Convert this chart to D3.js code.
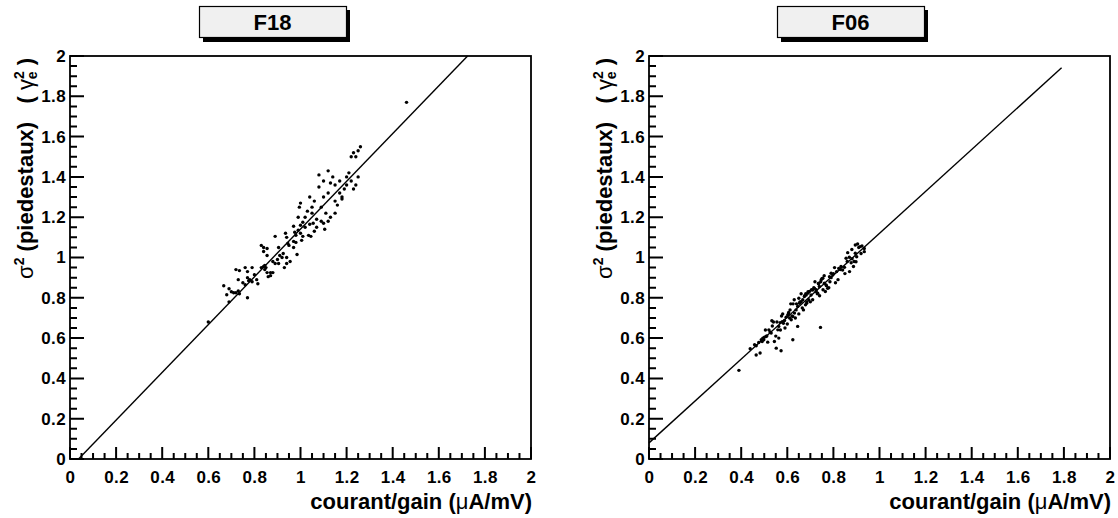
<!DOCTYPE html>
<html><head><meta charset="utf-8">
<script src="https://cdn.jsdelivr.net/npm/d3@7"></script>
<style>
body{margin:0;background:#fff}
svg text{font-family:"Liberation Sans",Arial,Helvetica,sans-serif;font-weight:bold;fill:#000}
</style>
</head><body>
<svg id="c" width="1118" height="518" xmlns="http://www.w3.org/2000/svg"></svg>
<script>
// ---------- data ----------
const panelTitles = ["F18", "F06"];
const majorTicks = [0, 0.2, 0.4, 0.6, 0.8, 1, 1.2, 1.4, 1.6, 1.8, 2];
const tickLabels = ["0", "0.2", "0.4", "0.6", "0.8", "1", "1.2", "1.4", "1.6", "1.8", "2"];
const axisDomain = [0, 2];
const xTitle = "courant/gain";
const yTitle = "(piedestaux)";

const f18X = [0.60,0.667,0.69,0.68,0.70,0.71,0.72,0.73,0.735,0.77,0.73,0.72,0.735,0.76,0.77,0.79,0.77,0.775,0.78,0.79,0.75,0.76,0.80,0.81,0.815,0.69,
0.83,0.84,0.855,0.84,0.855,0.84,0.845,0.85,0.83,0.845,0.855,0.87,0.88,0.86,0.87,0.88,0.89,0.90,0.905,0.89,0.905,0.91,0.92,0.925,0.935,0.94,0.945,0.95,0.97,0.93,0.94,0.955,0.94,
0.97,0.975,0.98,0.99,1.0,1.005,1.01,0.97,0.98,0.985,1.0,1.01,1.02,1.035,1.045,1.04,1.055,1.10,1.105,
0.99,0.995,1.0,1.02,1.03,1.05,1.06,1.07,1.08,1.09,1.1,1.1,1.11,1.12,1.12,1.13,1.14,1.15,1.15,1.16,1.17,1.17,1.18,1.19,1.2,1.2,1.21,1.22,1.22,1.23,1.24,1.25,1.26,1.18,1.07,1.06,1.09,1.12,1.15,
1.24,1.25,1.23,1.13,1.08,1.05,1.04,1.46];
const f18Y = [0.68,0.86,0.845,0.815,0.83,0.825,0.825,0.834,0.82,0.80,0.89,0.94,0.935,0.95,0.93,0.95,0.90,0.885,0.89,0.88,0.875,0.865,0.915,0.89,0.87,0.78,
1.06,1.05,1.045,1.03,1.01,0.955,0.96,0.95,0.95,0.94,0.925,0.925,0.925,0.905,0.91,0.98,0.97,0.99,0.97,1.105,1.05,1.01,1.0,1.02,1.12,1.10,1.07,1.06,1.05,0.95,0.97,0.98,1.0,
1.155,1.125,1.11,1.135,1.12,1.085,1.105,1.08,1.075,1.015,1.16,1.175,1.15,1.11,1.105,1.165,1.17,1.17,1.14,
1.2,1.25,1.27,1.2,1.23,1.22,1.28,1.19,1.35,1.25,1.38,1.3,1.22,1.32,1.43,1.2,1.4,1.28,1.36,1.26,1.32,1.38,1.3,1.34,1.36,1.4,1.42,1.38,1.5,1.52,1.5,1.53,1.55,1.29,1.15,1.13,1.18,1.18,1.22,
1.36,1.4,1.34,1.37,1.41,1.25,1.3,1.77];

const f06X = [0.390,0.439,0.458,0.465,0.465,0.482,0.476,0.487,0.494,0.501,0.508,0.491,0.498,0.520,0.530,0.511,0.533,0.544,0.552,0.573,0.563,
0.559,0.563,0.569,0.578,0.583,0.588,0.595,0.602,0.606,0.612,0.617,0.624,0.631,0.638,0.645,0.653,0.650,0.660,0.667,0.674,0.645,0.624,
0.682,0.689,0.696,0.703,0.693,0.684,0.679,0.710,0.718,0.725,0.732,0.739,0.736,0.747,0.754,0.761,0.768,0.775,0.765,0.744,
0.783,0.790,0.797,0.809,0.814,0.823,0.833,0.840,0.848,0.862,0.855,0.869,0.881,0.895,0.901,0.898,0.887,0.877,0.895,0.905,0.916,0.924,0.934,0.934,
0.505,0.515,0.525,0.535,0.54,0.55,0.555,0.57,0.575,0.58,0.59,0.60,0.605,0.61,0.615,0.62,0.625,0.63,0.635,0.64,0.65,0.655,0.66,0.665,0.67,0.675,0.68,0.685,0.69,0.70,0.705,0.71,0.715,0.72,0.725,0.73,0.735,0.74,0.745,0.75,0.755,0.76,0.77,0.78,0.785,0.79,0.80,0.805,0.82,0.83,0.85,0.86,0.87,0.88,0.89,0.91,0.92];
const f06Y = [0.440,0.547,0.567,0.562,0.516,0.526,0.578,0.592,0.600,0.605,0.608,0.583,0.592,0.641,0.625,0.611,0.686,0.583,0.550,0.537,0.600,
0.641,0.658,0.677,0.682,0.674,0.687,0.704,0.715,0.727,0.740,0.691,0.707,0.724,0.740,0.757,0.773,0.798,0.781,0.790,0.806,0.658,0.592,
0.814,0.823,0.831,0.814,0.790,0.773,0.765,0.839,0.847,0.831,0.823,0.856,0.872,0.889,0.897,0.872,0.864,0.847,0.831,0.653,
0.905,0.922,0.913,0.875,0.930,0.946,0.955,0.938,0.951,1.024,0.996,1.001,0.994,1.021,1.004,0.979,0.955,0.974,1.062,1.067,1.054,1.057,1.045,1.029,
0.64,0.58,0.63,0.66,0.68,0.61,0.68,0.64,0.71,0.72,0.65,0.67,0.72,0.70,0.77,0.71,0.77,0.79,0.70,0.77,0.72,0.78,0.82,0.75,0.74,0.81,0.82,0.78,0.83,0.78,0.84,0.79,0.85,0.88,0.84,0.82,0.87,0.81,0.88,0.895,0.84,0.91,0.86,0.85,0.88,0.90,0.92,0.95,0.89,0.94,0.92,0.98,0.93,1.04,0.98,1.05,1.02];

const fitSlope = [1.185, 1.04];
const fitIntercept = [-0.044, 0.08];
const fitXmax = [1.8, 1.79];

// ---------- drawing ----------
const svg = d3.select("#c");
const frame = {top: 56, bottom: 459, width: 461};
const panelLeft = [70, 649];
const titleBox = [{x: 199, w: 147}, {x: 777, w: 147}];
const yTitleX = [33, 612];

const minorTicks = [];
for (let k = 1; k < 40; k++) { if (k % 4 !== 0) minorTicks.push(k / 20); }

function drawPanel(i, xs, ys) {
  const L = panelLeft[i], R = L + frame.width;
  const x = d3.scaleLinear().domain(axisDomain).range([L, R]);
  const y = d3.scaleLinear().domain(axisDomain).range([frame.bottom, frame.top]);
  const g = svg.append("g");

  // tick labels via d3 axes
  const xa = g.append("g").attr("transform", `translate(0,${frame.bottom})`)
    .call(d3.axisBottom(x).tickValues(majorTicks).tickFormat((d, k) => tickLabels[k])
      .tickSize(0).tickPadding(12));
  const ya = g.append("g").attr("transform", `translate(${L},0)`)
    .call(d3.axisLeft(y).tickValues(majorTicks).tickFormat((d, k) => tickLabels[k])
      .tickSize(0).tickPadding(4));
  [xa, ya].forEach(ax => {
    ax.select(".domain").remove();
    ax.selectAll("text").attr("font-size", 17).attr("font-family", null)
      .attr("fill", "#000").style("letter-spacing", "0.4px");
  });

  // frame
  g.append("rect").attr("x", L).attr("y", frame.top)
    .attr("width", R - L).attr("height", frame.bottom - frame.top)
    .attr("fill", "none").attr("stroke", "#000").attr("stroke-width", 1.8);

  // fit line (clipped to frame)
  const a = fitSlope[i], b = fitIntercept[i];
  const x0 = Math.max(0, (0 - b) / a), x1 = Math.min(fitXmax[i], (2 - b) / a);
  g.append("line").attr("x1", x(x0)).attr("y1", y(a * x0 + b))
    .attr("x2", x(x1)).attr("y2", y(a * x1 + b))
    .attr("stroke", "#000").attr("stroke-width", 1.4);

  // points
  g.selectAll("circle.pt").data(xs.map((v, k) => [v, ys[k]])).enter()
    .append("circle").attr("class", "pt")
    .attr("cx", d => x(d[0])).attr("cy", d => y(d[1])).attr("r", 1.7).attr("fill", "#000");

  // x title
  const xtt = g.append("text").attr("x", R + 1).attr("y", 509)
    .attr("text-anchor", "end").attr("font-size", 22);
  xtt.append("tspan").text(xTitle + " (");
  xtt.append("tspan").attr("font-weight", "normal").text("\u03bc");
  xtt.append("tspan").text("A/mV)");

  // y title
  const ytt = g.append("text").attr("transform", `translate(${yTitleX[i]},58) rotate(-90)`)
    .attr("text-anchor", "end").attr("font-size", 22);
  ytt.append("tspan").attr("font-weight", "normal").text("\u03c3");
  ytt.append("tspan").attr("font-size", 14).attr("dy", -9).text("2");
  ytt.append("tspan").attr("dy", 9).text(" " + yTitle + "\u00a0\u00a0\u00a0(\u00a0");
  ytt.append("tspan").attr("font-weight", "normal").text("\u03b3");
  ytt.append("tspan").attr("font-size", 14).attr("dy", -9).text("2");
  ytt.append("tspan").attr("font-size", 14).attr("dx", -8).attr("dy", 13).text("e");
  ytt.append("tspan").attr("dy", -4).text("\u00a0)");

  // title box with shadow
  const tb = titleBox[i];
  g.append("rect").attr("x", tb.x + 4).attr("y", 10).attr("width", tb.w).attr("height", 32).attr("fill", "#000");
  g.append("rect").attr("x", tb.x + 0.5).attr("y", 6.5).attr("width", tb.w).attr("height", 31)
    .attr("fill", "#f0f0f0").attr("stroke", "#000").attr("stroke-width", 1.2);
  g.append("text").attr("x", tb.x + tb.w / 2).attr("y", 30).attr("text-anchor", "middle")
    .attr("font-size", 22).text(panelTitles[i]);

  // inward tick marks, drawn last
  let dStr = "";
  majorTicks.forEach(v => { dStr += `M${x(v)},${frame.bottom}V${frame.bottom - 12}`; });
  minorTicks.forEach(v => { dStr += `M${x(v)},${frame.bottom}V${frame.bottom - 6}`; });
  majorTicks.forEach(v => { dStr += `M${L},${y(v)}H${L + 14}`; });
  minorTicks.forEach(v => { dStr += `M${L},${y(v)}H${L + 7}`; });
  g.append("path").attr("class", "ticks").attr("d", dStr)
    .attr("fill", "none").attr("stroke", "#000").attr("stroke-width", 2);
}

drawPanel(0, f18X, f18Y);
drawPanel(1, f06X, f06Y);
</script>
</body></html>
